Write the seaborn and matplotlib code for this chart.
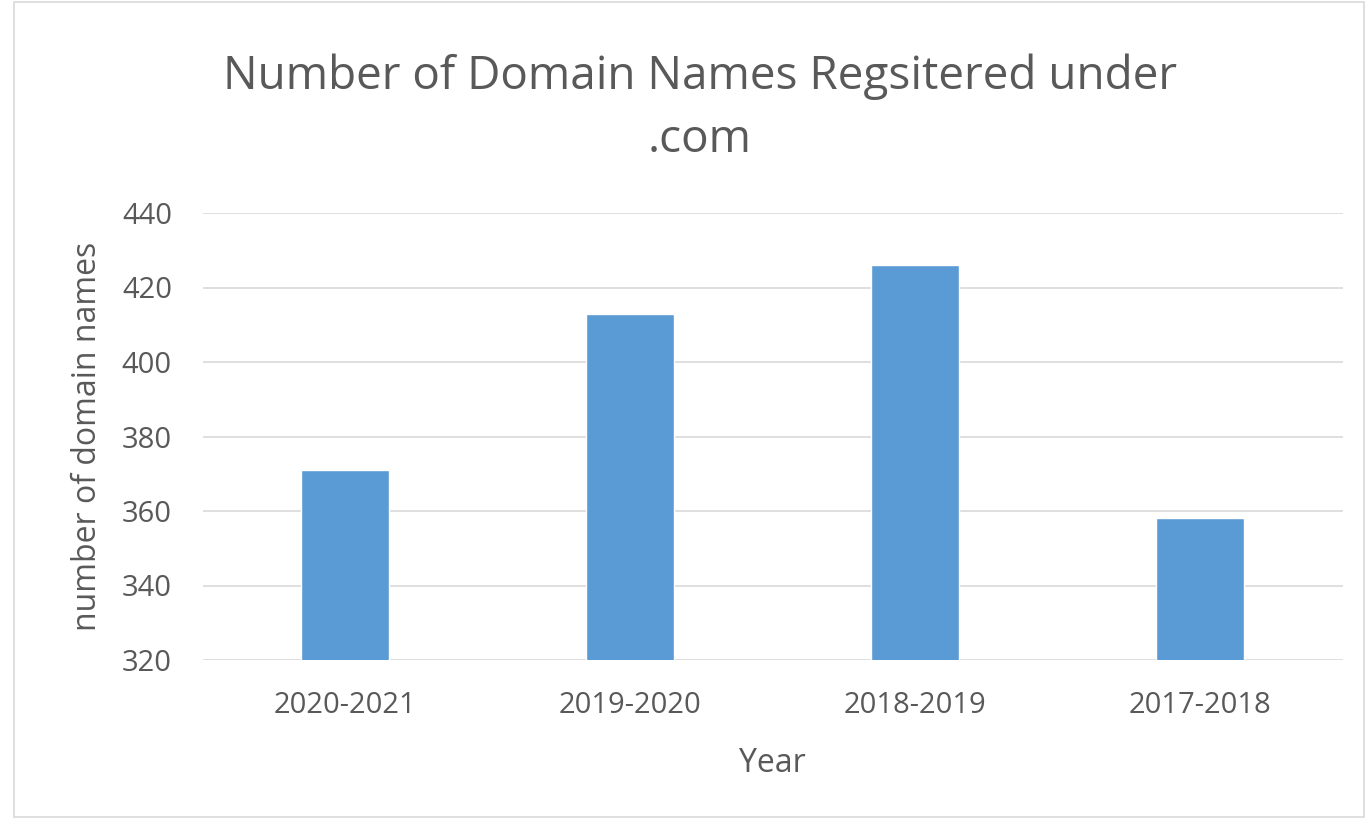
import pandas as pd
import matplotlib.pyplot as plt
import seaborn as sns

# data
years = ['2020-2021', '2019-2020', '2018-2019', '2017-2018']
domains = [371, 413, 426, 358]
yticks = [320, 340, 360, 380, 400, 420, 440]

df = pd.DataFrame({'year': years, 'domains': domains})

sns.set_style('white')
plt.rcParams['font.family'] = ['Open Sans', 'DejaVu Sans']
txt = '#595959'

fig = plt.figure(figsize=(13.66, 8.25), dpi=100)
ax = fig.add_axes([202.5 / 1366, 1 - 660 / 825, 1140 / 1366, 447 / 825])

sns.barplot(data=df, x='year', y='domains', color='#5B9BD5', width=0.31,
            saturation=1, ax=ax)

ax.set_ylim(320, 440)
ax.set_yticks(yticks)
ax.yaxis.grid(True, color='#D9D9D9', linewidth=1.2)
ax.set_axisbelow(True)
sns.despine(ax=ax, left=True, bottom=True, top=True, right=True)
ax.tick_params(axis='both', length=0, labelsize=21, colors=txt)
ax.tick_params(axis='x', pad=22)
ax.tick_params(axis='y', pad=22)
ax.set_xlabel('Year', fontsize=23, color=txt, labelpad=20)
ax.set_ylabel('number of domain names', fontsize=23, color=txt, labelpad=13)

fig.text(700 / 1366, 1 - 108 / 825, 'Number of Domain Names Regsitered under\n.com',
         ha='center', va='center', fontsize=33, color=txt, linespacing=1.5)

# light frame around the chart area
fig.patches.append(plt.Rectangle((14 / 1366, 8 / 825), 1350 / 1366, 815 / 825,
                                 transform=fig.transFigure, fill=False,
                                 edgecolor='#D9D9D9', linewidth=1.2))

fig.savefig('out.png', dpi=100)
